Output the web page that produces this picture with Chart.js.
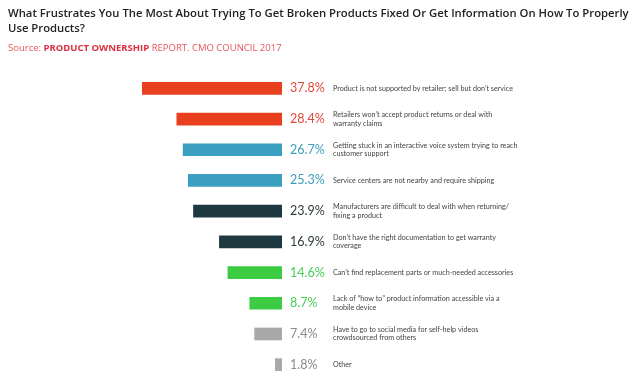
<!DOCTYPE html>
<html>
<head>
<meta charset="utf-8">
<script src="https://cdn.jsdelivr.net/npm/chart.js@4.4.1/dist/chart.umd.min.js"></script>
<style>
	html, body { margin: 0; padding: 0; background: #fff; }
	#wrap { width: 640px; height: 388px; }
</style>
</head>
<body>
<div id="wrap"><canvas id="frustrations" width="640" height="388"></canvas></div>
<script>
"use strict";

var titleLines = ["What Frustrates You The Most About Trying To Get Broken Products Fixed Or Get Information On How To Properly", "Use Products?"];

var reasons = [
	["Product is not supported by retailer; sell but don\u2019t service"],
	["Retailers won\u2019t accept product returns or deal with", "warranty claims"],
	["Getting stuck in an interactive voice system trying to reach", "customer support"],
	["Service centers are not nearby and require shipping"],
	["Manufacturers are difficult to deal with when returning/", "fixing a product"],
	["Don\u2019t have the right documentation to get warranty", "coverage"],
	["Can\u2019t find replacement parts or much-needed accessories"],
	["Lack of \u201chow to\u201d product information accessible via a", "mobile device"],
	["Have to go to social media for self-help videos", "crowdsourced from others"],
	["Other"]
];

var percents = [37.8, 28.4, 26.7, 25.3, 23.9, 16.9, 14.6, 8.7, 7.4, 1.8];

// colours per bar (bar fill / value text)
var barColors = ["#e8401f", "#e8401f", "#3a9fc0", "#3a9fc0", "#1e3a40", "#1e3a40", "#3ccc44", "#3ccc44", "#a9a9a9", "#a9a9a9"];
var textColors = ["#e4493a", "#e4493a", "#3e9cbd", "#3e9cbd", "#2f3b3f", "#2f3b3f", "#45cf55", "#45cf55", "#8a8a8a", "#8a8a8a"];

var headerPlugin = {
	id: "header",
	afterDraw: function (chart) {
		var c = chart.ctx;
		c.save();
		c.textBaseline = "middle";
		c.textAlign = "left";
		c.fillStyle = "#222";
		c.font = "600 11.3px 'Open Sans'";
		c.fillText(titleLines[0], 8, 14);
		c.fillText(titleLines[1], 8, 29);

		var x = 8;
		var parts = [["Source: ", "400", "#e6555a"], ["PRODUCT OWNERSHIP", "700", "#dc2f3c"], [" REPORT. CMO COUNCIL 2017", "400", "#e6555a"]];
		parts.forEach(function (p) {
			c.font = p[1] + " 9.5px 'Open Sans'";
			c.fillStyle = p[2];
			c.fillText(p[0], x, 48);
			x += c.measureText(p[0]).width;
		});
		c.restore();
	}
};

var valuePlugin = {
	id: "values",
	afterDatasetsDraw: function (chart) {
		var c = chart.ctx;
		var meta = chart.getDatasetMeta(0);
		c.save();
		c.textBaseline = "middle";
		c.textAlign = "left";
		c.font = "12.5px Lato";
		meta.data.forEach(function (bar, i) {
			c.fillStyle = textColors[i];
			c.fillText(percents[i].toFixed(1) + "%", chart.chartArea.right + 8, bar.y);
		});
		c.restore();
	}
};

var ctx = document.getElementById("frustrations");
var chart = new Chart(ctx, {
	type: "bar",
	data: {
		labels: reasons,
		datasets: [
			{
				data: percents,
				backgroundColor: barColors,
				borderWidth: 0,
				barThickness: 12
			}
		]
	},
	options: {
		indexAxis: "y",
		responsive: false,
		animation: false,
		layout: {
			padding: { top: 73, bottom: 8, left: 142, right: 0 }
		},
		plugins: {
			legend: { display: false },
			tooltip: { enabled: false }
		},
		scales: {
			x: {
				display: false,
				reverse: true,
				min: 0,
				max: 37.8
			},
			y: {
				position: "right",
				grid: { display: false, drawTicks: true, tickLength: 51 },
				border: { display: false },
				afterFit: function (scale) {
					scale.width = 358;
				},
				ticks: {
					padding: 0,
					color: "#444",
					font: { family: "Lato", size: 7.2, lineHeight: 1.15 }
				}
			}
		}
	},
	plugins: [headerPlugin, valuePlugin]
});
</script>
</body>
</html>
